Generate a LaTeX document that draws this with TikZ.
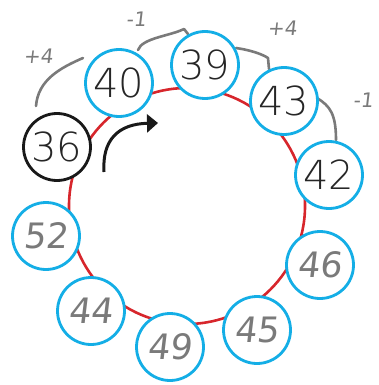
\documentclass[tikz,border=0pt]{standalone}
\usepackage{fontspec}
\usetikzlibrary{arrows.meta}
\newfontfamily\thinfont{DejaVuSans-ExtraLight}[Extension=.ttf]
\newfontfamily\handfont{DejaVu Sans}[FakeSlant=0.12]
\definecolor{ringred}{HTML}{D7262C}
\definecolor{ringblue}{HTML}{14AEE6}
\definecolor{scrib}{HTML}{7A7A7A}
\tikzset{
  typed/.style={circle, draw=ringblue, line width=2.8pt, fill=white, minimum size=67pt, inner sep=0pt, font=\thinfont\fontsize{40}{40}\selectfont, text=black!85},
  start/.style={typed, draw=black!90},
  hand/.style={typed, font=\handfont\fontsize{35}{35}\selectfont, text=scrib},
  scribble/.style={draw=scrib, line width=2.6pt, line cap=round, line join=round},
  note/.style={text=scrib, font=\handfont\fontsize{20}{20}\selectfont, inner sep=0pt}
}
\begin{document}
\begin{tikzpicture}[x=1pt,y=-1pt]
\useasboundingbox (0,0) rectangle (378,385);
% big ring
\node[circle, draw=ringred, line width=2.6pt, minimum size=236pt, inner sep=0pt] (ring) at (187,206) {};
% scribbled annotations
\coordinate (a1) at (36,106); \coordinate (b1) at (83,58);
\draw[scribble] (a1) .. controls (38,80) and (60,68) .. (b1);
\coordinate (a2) at (138,50); \coordinate (b2) at (188,34);
\draw[scribble] (a2) .. controls (142,38) and (170,36) .. (184,29) -- (b2);
\coordinate (a3) at (236,48); \coordinate (b3) at (269,69);
\draw[scribble] (a3) .. controls (250,50) and (262,54) .. (268,58) -- (b3);
\coordinate (a4) at (317,98); \coordinate (b4) at (336,140);
\draw[scribble] (a4) .. controls (330,106) and (336,114) .. (b4);
\node[note] (p1) at (38,56) {+4};
\node[note] (m1) at (136,19) {-1};
\node[note] (p2) at (282,28) {+4};
\node[note] (m2) at (363,100) {-1};
% arrow
\coordinate (arrS) at (104,172);
\coordinate (arrE) at (158,123);
\draw[black!90, line width=3pt, -{Triangle[length=11pt,width=18pt]}] (arrS) .. controls (102,140) and (118,124) .. (arrE);
% number circles
\node[typed] (n40) at (119,83) {40};
\node[typed] (n39) at (205,65) {39};
\node[typed] (n43) at (284,101) {43};
\node[typed] (n42) at (329,175) {42};
\node[start] (n36) at (57,147) {36};
\node[hand] (n52) at (46,236) {52};
\node[hand] (n46) at (320,265) {46};
\node[hand] (n44) at (91,311) {44};
\node[hand] (n49) at (170,347) {49};
\node[hand] (n45) at (257,330) {45};
\end{tikzpicture}
\end{document}
